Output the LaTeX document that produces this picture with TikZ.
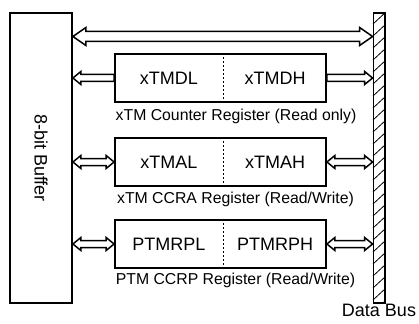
\documentclass[tikz,border=0pt]{standalone}
\usepackage{fontspec}
\setmainfont{Liberation Sans}
\usetikzlibrary{calc}
\newcommand\bigtxt{\fontsize{18}{21}\selectfont}
\newcommand\smalltxt{\fontsize{15.8}{18}\selectfont}
% horizontal fat arrows: #1 left point, #2 right point, #3 half shaft, #4 half head, #5 head length
\newcommand\fatdouble[5]{%
  \draw[fatarr] let \p1=(#1), \p2=(#2) in
    (\x1,\y1) -- (\x1+#5,\y1+#4) -- (\x1+#5,\y1+#3) -- (\x2-#5,\y2+#3) -- (\x2-#5,\y2+#4)
    -- (\x2,\y2) -- (\x2-#5,\y2-#4) -- (\x2-#5,\y2-#3) -- (\x1+#5,\y1-#3) -- (\x1+#5,\y1-#4) -- cycle;}
\newcommand\fatleft[5]{%
  \draw[fatarr] let \p1=(#1), \p2=(#2) in
    (\x1,\y1) -- (\x1+#5,\y1+#4) -- (\x1+#5,\y1+#3) -- (\x2,\y2+#3)
    -- (\x2,\y2-#3) -- (\x1+#5,\y1-#3) -- (\x1+#5,\y1-#4) -- cycle;}
\newcommand\fatright[5]{%
  \draw[fatarr] let \p1=(#1), \p2=(#2) in
    (\x1,\y1+#3) -- (\x2-#5,\y2+#3) -- (\x2-#5,\y2+#4)
    -- (\x2,\y2) -- (\x2-#5,\y2-#4) -- (\x2-#5,\y2-#3) -- (\x1,\y1-#3) -- cycle;}
\begin{document}
\begin{tikzpicture}[x=1pt,y=-1pt,
  box/.style={draw,line width=1.8pt,rectangle,inner sep=0pt},
  reg/.style={box,minimum width=211pt,minimum height=47.5pt},
  fatarr/.style={draw,fill=white,line width=1.5pt,line join=miter},
  divider/.style={line width=1.5pt,dash pattern=on 2pt off 2pt},
  lbl/.style={font=\smalltxt,inner sep=0pt},
  txt/.style={font=\bigtxt,inner sep=0pt}]
\useasboundingbox (0,0) rectangle (419,323);
% buffer
\node[box,minimum width=62pt,minimum height=290pt] (buf) at (41,158) {};
\node[txt,rotate=-90] (buftxt) at (buf.center) {8-bit Buffer};
% data bus
\node[box,minimum width=11.5pt,minimum height=290pt,fill=white] (bus) at (379.25,158) {};
\begin{scope}
  \clip (bus.north west) rectangle (bus.south east);
  \foreach \y in {13,25,...,313}{
    \draw[line width=0.8pt] (373,\y+11) -- (386,\y-1);
  }
\end{scope}
\node[box,minimum width=11.5pt,minimum height=290pt] at (bus.center) {};
\node[txt,anchor=north] (bustxt) at (379,304) {Data Bus};
% registers
\node[reg] (r1) at (220.5,78) {};
\node[reg] (r2) at (220.5,162) {};
\node[reg] (r3) at (220.5,244) {};
\foreach \r/\l/\h in {r1/xTMDL/xTMDH,r2/xTMAL/xTMAH,r3/PTMRPL/PTMRPH}{
  \coordinate (\r d) at ([xshift=3pt]\r.north);
  \draw[divider] (\r d) -- (\r d |- \r.south);
  \node[txt] (\r l) at ($(\r.west)!0.5!(\r d |- \r.center)$) {\l};
  \node[txt] (\r h) at ($(\r.east)!0.5!(\r d |- \r.center)$) {\h};
}
\node[lbl] (l1) at (236,116.5) {xTM Counter Register (Read only)};
\node[lbl] (l2) at (235.5,199) {xTM CCRA Register (Read/Write)};
\node[lbl] (l3) at (235.5,280) {PTM CCRP Register (Read/Write)};
% arrows
\coordinate (tl) at (buf.east |- 0,36.5);
\coordinate (tr) at (bus.west |- 0,36.5);
\fatdouble{tl}{tr}{5pt}{9pt}{13pt}
\fatleft{buf.east |- r1.west}{r1.west}{3.5pt}{6.5pt}{8pt}
\fatright{r1.east}{bus.west |- r1.east}{3.5pt}{6.5pt}{8pt}
\fatdouble{buf.east |- r2.west}{r2.west}{3.5pt}{6.5pt}{8pt}
\fatdouble{r2.east}{bus.west |- r2.east}{3.5pt}{6.5pt}{8pt}
\fatdouble{buf.east |- r3.west}{r3.west}{3.5pt}{6.5pt}{8pt}
\fatdouble{r3.east}{bus.west |- r3.east}{3.5pt}{6.5pt}{8pt}
\end{tikzpicture}
\end{document}
